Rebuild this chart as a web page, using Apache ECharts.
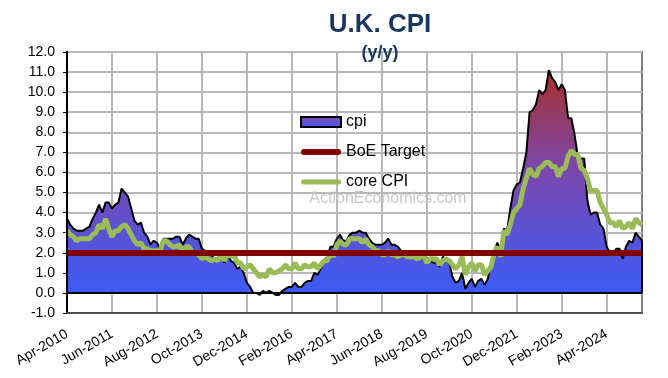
<!DOCTYPE html>
<html>
<head>
<meta charset="utf-8">
<script src="https://cdn.jsdelivr.net/npm/echarts@6/dist/echarts.min.js"></script>
<style>
html,body{margin:0;padding:0;background:#fff;}
#c{width:668px;height:378px;}
</style>
</head>
<body>
<div id="c"></div>
<script>
// Monthly categories: Apr-2010 .. Mar-2025
var monthNames = ['Jan','Feb','Mar','Apr','May','Jun','Jul','Aug','Sep','Oct','Nov','Dec'];
var startYear = 2010, startMonth = 3, nMonths = 180;
var categories = [];
for (var i = 0; i < nMonths; i++) {
  var m = (startMonth + i) % 12, y = startYear + Math.floor((startMonth + i) / 12);
  categories.push(monthNames[m] + '-' + y);
}

// UK CPI y/y (%)
var cpi = [
  3.7,3.4,3.2,3.1,3.1,3.1,3.2,3.3,3.7,
  4.0,4.4,4.0,4.5,4.5,4.2,4.4,4.5,5.2,5.0,4.8,4.2,
  3.6,3.4,3.5,3.0,2.8,2.4,2.6,2.5,2.2,2.7,2.7,2.7,
  2.7,2.8,2.8,2.4,2.7,2.9,2.8,2.7,2.7,2.2,2.1,2.0,
  1.9,1.7,1.6,1.8,1.5,1.9,1.6,1.5,1.2,1.3,1.0,0.5,
  0.3,0.0,0.0,-0.1,0.1,0.0,0.1,0.0,-0.1,-0.1,0.1,0.2,
  0.3,0.3,0.5,0.3,0.3,0.5,0.6,0.6,1.0,0.9,1.2,1.6,
  1.8,2.3,2.3,2.7,2.9,2.6,2.6,2.9,3.0,3.0,3.1,3.0,
  3.0,2.7,2.5,2.4,2.4,2.4,2.5,2.7,2.4,2.4,2.3,2.1,
  1.8,1.9,1.9,2.1,2.0,2.0,2.1,1.7,1.7,1.5,1.5,1.3,
  1.8,1.7,1.5,0.8,0.5,0.6,1.0,0.2,0.5,0.7,0.3,0.6,
  0.7,0.4,0.7,1.5,2.1,2.5,2.0,3.2,3.1,4.2,5.1,5.4,
  5.5,6.2,7.0,9.0,9.1,9.4,10.1,9.9,10.1,11.1,10.7,10.5,
  10.1,10.4,10.1,8.7,8.7,7.9,6.8,6.7,6.7,4.6,3.9,4.0,
  4.0,3.4,3.2,2.3,2.0,2.0,2.2,2.2,1.7,2.3,2.6,2.5,
  3.0,2.8,2.6
];

// UK core CPI y/y (%)
var coreCpi = [
  3.1,2.9,2.8,2.6,2.7,2.7,2.7,2.7,2.9,
  3.0,3.4,3.2,3.7,3.2,2.8,3.1,3.1,3.3,3.4,3.2,2.9,
  2.6,2.4,2.5,2.2,2.2,2.1,2.1,2.1,2.1,2.6,2.6,2.4,
  2.3,2.3,2.4,2.0,2.3,2.3,2.0,2.0,1.9,1.7,1.8,1.7,
  1.6,1.7,1.6,2.0,1.6,2.0,1.8,1.9,1.5,1.5,1.2,1.3,
  1.4,1.2,1.0,0.8,0.9,0.8,1.2,1.0,1.0,1.1,1.2,1.4,
  1.2,1.2,1.5,1.2,1.2,1.4,1.3,1.3,1.5,1.2,1.4,1.6,
  1.6,2.0,1.8,2.4,2.6,2.4,2.4,2.7,2.7,2.7,2.7,2.5,
  2.7,2.4,2.3,2.1,2.1,1.9,1.9,2.1,1.9,1.9,1.8,1.9,
  1.9,1.8,1.8,1.8,1.7,1.8,1.9,1.5,1.7,1.7,1.7,1.4,
  1.6,1.7,1.6,1.4,1.2,1.4,1.8,0.9,1.3,1.5,1.1,1.4,
  1.4,0.9,1.1,1.3,2.0,2.3,1.8,3.1,2.9,3.4,4.0,4.2,
  4.4,5.2,5.7,6.2,5.9,5.8,6.2,6.3,6.5,6.5,6.3,6.3,
  5.8,6.2,6.2,6.8,7.1,6.9,6.9,6.2,6.1,5.7,5.1,5.1,
  5.1,4.5,4.2,3.9,3.5,3.5,3.3,3.6,3.2,3.3,3.5,3.2,
  3.7,3.5,3.4
];

var boeTarget = 2.0;
var yTicks = {min: -1, max: 12, step: 1};
var labelStep = 14;

var FONT = 'Arial, "Liberation Sans", sans-serif';
var first = categories[0], last = categories[categories.length - 1];

var areaGradient = new echarts.graphic.LinearGradient(0, 0, 0, 1, [
  {offset: 0, color: '#a8302a'},
  {offset: 0.45, color: '#7a48b0'},
  {offset: 1, color: '#3b5cf6'}
]);
var legendGradient = new echarts.graphic.LinearGradient(0, 0, 0, 1, [
  {offset: 0, color: '#8a4aa8'},
  {offset: 1, color: '#3b5cf6'}
]);

var roundBar6 = 'path://M3,0 L37,0 A3,3 0 0 1 37,6 L3,6 A3,3 0 0 1 3,0 Z';
var roundBar5 = 'path://M2.5,0 L37.5,0 A2.5,2.5 0 0 1 37.5,5 L2.5,5 A2.5,2.5 0 0 1 2.5,0 Z';

var chart = echarts.init(document.getElementById('c'), null, {renderer: 'canvas'});
chart.setOption({
  animation: false,
  backgroundColor: '#ffffff',
  textStyle: {fontFamily: FONT},
  grid: {left: 67, right: 26, top: 52, bottom: 65, show: true, borderColor: '#808080', borderWidth: 2, containLabel: false},
  graphic: [
    {type: 'text', x: 380, y: 25, z: 100, style: {text: 'U.K. CPI', font: 'bold 26px ' + FONT, fill: '#17375e', textAlign: 'center', textVerticalAlign: 'middle'}},
    {type: 'text', x: 380, y: 53, z: 100, style: {text: '(y/y)', font: 'bold 18px ' + FONT, fill: '#17375e', textAlign: 'center', textVerticalAlign: 'middle'}},
    {type: 'text', x: 388, y: 199, z: 1, style: {text: 'ActionEconomics.com', font: '16px ' + FONT, fill: '#c8c8c8', textAlign: 'center', textVerticalAlign: 'middle'}}
  ],
  legend: {
    orient: 'vertical',
    left: 300, top: 114,
    padding: 0,
    symbolKeepAspect: true,
    itemWidth: 40, itemHeight: 10, itemGap: 14,
    textStyle: {fontSize: 16, color: '#000', fontFamily: FONT},
    data: [
      {name: 'cpi', icon: 'rect', itemStyle: {color: legendGradient, borderColor: '#000', borderWidth: 2}},
      {name: 'BoE Target', icon: roundBar6, itemStyle: {color: '#800000', borderWidth: 0}},
      {name: 'core CPI', icon: roundBar5, itemStyle: {color: '#9bbb59', borderWidth: 0}}
    ]
  },
  xAxis: {
    type: 'category',
    data: categories,
    boundaryGap: false,
    axisLine: {onZero: false, lineStyle: {color: '#505050', width: 2}},
    axisTick: {show: false},
    axisLabel: {interval: labelStep - 1, rotate: 30, margin: 20, fontSize: 14, color: '#000', fontFamily: FONT},
    splitLine: {show: true, interval: labelStep - 1, lineStyle: {color: '#b8b8b8', width: 2}}
  },
  yAxis: {
    type: 'value',
    min: yTicks.min, max: yTicks.max, interval: yTicks.step,
    axisLine: {show: true, onZero: false, lineStyle: {color: '#000', width: 2}},
    axisTick: {show: true, inside: false, length: 4, lineStyle: {color: '#000', width: 1}},
    axisLabel: {fontSize: 14, color: '#000', margin: 12, fontFamily: FONT, formatter: function (v) { return v.toFixed(1); }},
    splitLine: {show: true, lineStyle: {color: '#b8b8b8', width: 2}}
  },
  series: [
    {
      name: 'cpi', type: 'line', data: cpi, symbol: 'none', z: 2,
      lineStyle: {color: '#000', width: 2},
      itemStyle: {color: '#3b5cf6'},
      areaStyle: {color: areaGradient, opacity: 1},
      markLine: {
        silent: true, symbol: 'none', label: {show: false},
        lineStyle: {color: '#000', width: 2, type: 'solid'},
        data: [
          {yAxis: 0},
          [{coord: [first, 0]}, {coord: [first, cpi[0]]}],
          [{coord: [last, 0]}, {coord: [last, cpi[cpi.length - 1]]}]
        ]
      }
    },
    {
      name: 'BoE Target', type: 'line', data: [], symbol: 'none', z: 3,
      lineStyle: {color: '#800000', width: 6},
      itemStyle: {color: '#800000'},
      markLine: {
        silent: true, symbol: 'none', label: {show: false},
        lineStyle: {color: '#800000', width: 6, type: 'solid'},
        data: [{yAxis: boeTarget}]
      }
    },
    {
      name: 'core CPI', type: 'line', data: coreCpi, symbol: 'none', z: 4,
      lineStyle: {color: '#9bbb59', width: 5},
      itemStyle: {color: '#9bbb59'}
    }
  ]
});
</script>
</body>
</html>
